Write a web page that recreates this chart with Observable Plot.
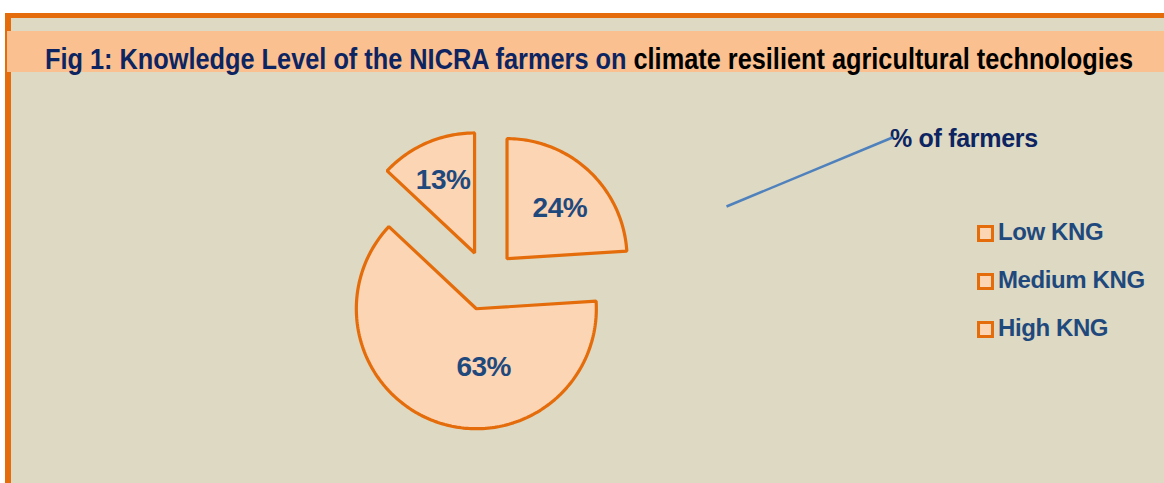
<!DOCTYPE html>
<html><head><meta charset="utf-8">
<script src="https://cdn.jsdelivr.net/npm/d3@7"></script>
<script src="https://cdn.jsdelivr.net/npm/@observablehq/plot@0.6"></script>
<style>
html,body{margin:0;padding:0;background:#fff;}
#wrap{position:relative;width:1164px;height:483px;overflow:hidden;background:#fff;}
#frame{position:absolute;left:5px;top:13px;width:1200px;height:500px;box-sizing:border-box;border-left:6px solid #e46c0a;border-top:5px solid #e46c0a;background:#ddd9c3;}
#band{position:absolute;left:7px;top:31px;width:1157px;height:41px;background:#fac090;}
#title{position:absolute;left:45px;top:44.5px;white-space:nowrap;font-family:"Liberation Sans Narrow","Liberation Sans",sans-serif;font-weight:bold;font-size:29px;line-height:29px;transform-origin:0 0;}
#title .a{color:#0c2461;}
#title .b{color:#000;}
#ctitle{position:absolute;left:890px;top:126px;white-space:nowrap;font-family:"Liberation Sans",sans-serif;font-weight:bold;font-size:25px;line-height:25px;letter-spacing:-0.3px;color:#0c2461;}
.leg{position:absolute;left:977px;height:24px;white-space:nowrap;}
.leg .sw{position:absolute;left:0;width:17px;height:17px;box-sizing:border-box;border:3.5px solid #e46c0a;background:#fcd5b5;}
.leg .tx{position:absolute;left:21px;top:0;font-family:"Liberation Sans",sans-serif;font-weight:bold;font-size:24px;line-height:24px;letter-spacing:-0.4px;color:#1f497d;}
#plot{position:absolute;left:0;top:0;}
</style></head>
<body>
<div id="wrap">
  <div id="frame"></div>
  <div id="band"></div>
  <div id="title"><span class="a">Fig 1: Knowledge Level of the NICRA farmers on</span> <span class="b">climate resilient agricultural technologies</span></div>
  <div id="ctitle">% of farmers</div>
  <div id="legend"></div>
  <div id="plot"></div>
</div>
<script>
// ---- data ----
const categories = ["Low KNG", "Medium KNG", "High KNG"];
const percents = [24, 63, 13];
const labels = ["24%", "63%", "13%"];
const chartTitle = "% of farmers";

// ---- layout ----
const W = 1164, H = 483;
const pieCenterPx = [486, 280];   // pixel position of pie centre
const radiusPx = 120;             // pie radius in pixels
const explode = 0.25;             // explosion, fraction of radius
const labelRadius = [0.61, 0.49, 0.66];   // label distance from slice apex (radius units)
const labelShiftDeg = [3, -27, 0];        // label angle shift from slice bisector
const leaderPx = [[726, 206], [892, 137]]; // decorative leader line ends (pixels)
const legendTop = [225, 273, 321];
const legendTextTop = [219.7, 267.7, 315.7];

// legend
const leg = document.getElementById("legend");
categories.forEach((c, i) => {
  const d = document.createElement("div");
  d.className = "leg";
  d.style.top = "0px";
  d.innerHTML = `<div class="sw" style="top:${legendTop[i]}px"></div><div class="tx" style="top:${legendTextTop[i]}px">${c}</div>`;
  leg.appendChild(d);
});

// title fit
const t = document.getElementById("title");
const tw = t.getBoundingClientRect().width;
t.style.transform = `scaleX(${1088 / tw})`;

// scales: data units = pie radius, y up
const xDomain = [-pieCenterPx[0] / radiusPx, (W - pieCenterPx[0]) / radiusPx];
const yDomain = [-(H - pieCenterPx[1]) / radiusPx, pieCenterPx[1] / radiusPx];
const toData = ([px, py]) => [(px - pieCenterPx[0]) / radiusPx, (pieCenterPx[1] - py) / radiusPx];

const arcs = d3.pie().sort(null).value(d => d)(percents);
const pts = [];
const labelPts = [];
arcs.forEach((a, i) => {
  const mid = (a.startAngle + a.endAngle) / 2;
  const ox = explode * Math.sin(mid), oy = explode * Math.cos(mid);
  pts.push({slice: categories[i], x: ox, y: oy});
  const n = Math.max(8, Math.ceil((a.endAngle - a.startAngle) / 0.02));
  for (let k = 0; k <= n; k++) {
    const th = a.startAngle + (a.endAngle - a.startAngle) * k / n;
    pts.push({slice: categories[i], x: ox + Math.sin(th), y: oy + Math.cos(th)});
  }
  const la = mid + labelShiftDeg[i] * Math.PI / 180;
  labelPts.push({label: labels[i], x: ox + labelRadius[i] * Math.sin(la), y: oy + labelRadius[i] * Math.cos(la)});
});

const [l1, l2] = leaderPx.map(toData);
const leader = [{x1: l1[0], y1: l1[1], x2: l2[0], y2: l2[1]}];

const svg = Plot.plot({
  width: W, height: H, margin: 0,
  x: {domain: xDomain, axis: null},
  y: {domain: yDomain, axis: null},
  style: {background: "transparent", overflow: "visible"},
  marks: [
    Plot.line(pts, {x: "x", y: "y", z: "slice", curve: "linear-closed", fill: "#fcd5b5", stroke: "#e46c0a", strokeWidth: 3.2, strokeLinejoin: "miter"}),
    Plot.text(labelPts, {x: "x", y: "y", text: "label", fill: "#1f497d", fontSize: 28, fontWeight: "bold", fontFamily: "Liberation Sans, Arial, sans-serif"}),
    Plot.link(leader, {x1: "x1", y1: "y1", x2: "x2", y2: "y2", stroke: "#4f81bd", strokeWidth: 2.5})
  ]
});
d3.select(svg).selectAll("text").attr("letter-spacing", "-0.5px");
document.getElementById("plot").appendChild(svg);
</script>
</body></html>
